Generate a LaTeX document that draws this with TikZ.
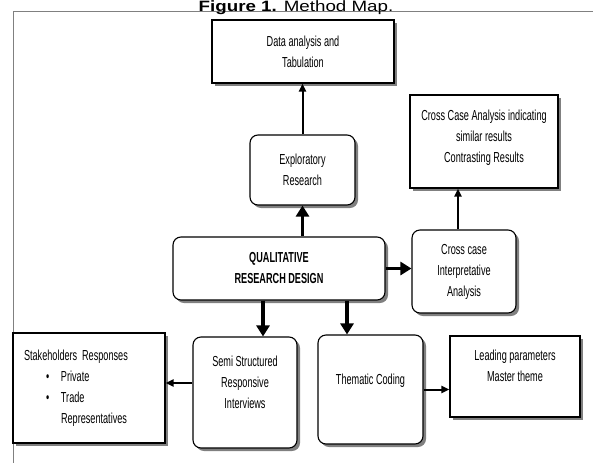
\documentclass[tikz,border=0pt]{standalone}
\usepackage{fontspec}
\setmainfont{Liberation Sans}
\newfontfamily\narrow{Liberation Sans}[FakeStretch=0.63]
\newfontfamily\wide{Liberation Sans}[FakeStretch=1.25]
\usetikzlibrary{shadows,arrows.meta}
\newcommand{\bl}{\makebox[37pt][l]{\hspace{22pt}\textbullet}}

\begin{document}
\begin{tikzpicture}[x=1pt,y=-1pt]
                        \tikzstyle{box}=[draw, line width=1.1pt, fill=white, align=center, inner sep=2pt,
                            drop shadow={shadow xshift=3pt, shadow yshift=-3pt, fill=black!50, opacity=1},
                            font=\narrow\fontsize{14.5pt}{21pt}\selectfont]
                        \tikzstyle{rbox}=[box, rounded corners=8pt]
                        \tikzstyle{big}=[line width=3.5pt, -{Triangle[length=11pt,width=13pt]}]
                        \tikzstyle{small}=[line width=2pt, -{Triangle[length=8pt,width=7pt]}]
                        \useasboundingbox (0,0) rectangle (593,463);
                        \draw[gray, line width=1pt] (593,11) -- (13,11) -- (13,463);
                        \node[anchor=base, font=\wide\fontsize{15pt}{18pt}\selectfont] (title) at (296,11)
                            {\textbf{Figure 1.} Method Map.};
                        \node[box, minimum width=182pt, minimum height=63pt] (data) at (303,51.5)
                            {Data analysis and\\Tabulation};
                        \node[rbox, minimum width=105pt, minimum height=70pt] (explo) at (302.5,170)
                            {Exploratory\\Research};
                        \node[rbox, minimum width=212pt, minimum height=63pt] (qual) at (279,268.5)
                            {\textbf{QUALITATIVE}\\\textbf{RESEARCH DESIGN}};
                        \node[box, minimum width=148pt, minimum height=93pt] (cca) at (484,141.5)
                            {Cross Case Analysis indicating\\similar results\\Contrasting Results\\[-10pt]\mbox{}};
                        \node[rbox, minimum width=104pt, minimum height=83pt] (ccase) at (464,271.5)
                            {Cross case\\Interpretative\\Analysis};
                        \node[rbox, minimum width=104pt, minimum height=111pt] (semi) at (245,392.5)
                            {Semi Structured\\Responsive\\Interviews\\\mbox{}};
                        \node[rbox, minimum width=105pt, minimum height=109pt] (them) at (370.5,389.5)
                            {Thematic Coding\\\mbox{}};
                        \node[box, minimum width=130pt, minimum height=81pt] (lead) at (515,376.5)
                            {Leading parameters\\Master theme\\\mbox{}};
                        \node[box, minimum width=152pt, minimum height=110pt, text width=130pt, align=left] (stake) at (89,388)
                            {Stakeholders Responses\\\bl Private\\\bl Trade\\\hspace*{37pt}Representatives};
                        \draw[small] (explo.north) -- (explo.north |- data.south);
                        \draw[big] (explo.south |- qual.north) -- (explo.south);
                        \draw[big] (qual.east) -- (qual.east -| ccase.west);
                        \draw[small] ([xshift=-6pt]ccase.north) -- ([xshift=-6pt]ccase.north |- cca.south);
                        \draw[big] ([xshift=-16pt]qual.south) -- ([xshift=18pt]semi.north);
                        \draw[big] ([xshift=68pt]qual.south) -- ([xshift=-23.5pt]them.north);
                        \draw[small] ([yshift=9.5pt]semi.west) -- ([yshift=9.5pt]semi.west -| stake.east);
                        \draw[small] (them.east) -- (them.east -| lead.west);
\end{tikzpicture}
\end{document}
